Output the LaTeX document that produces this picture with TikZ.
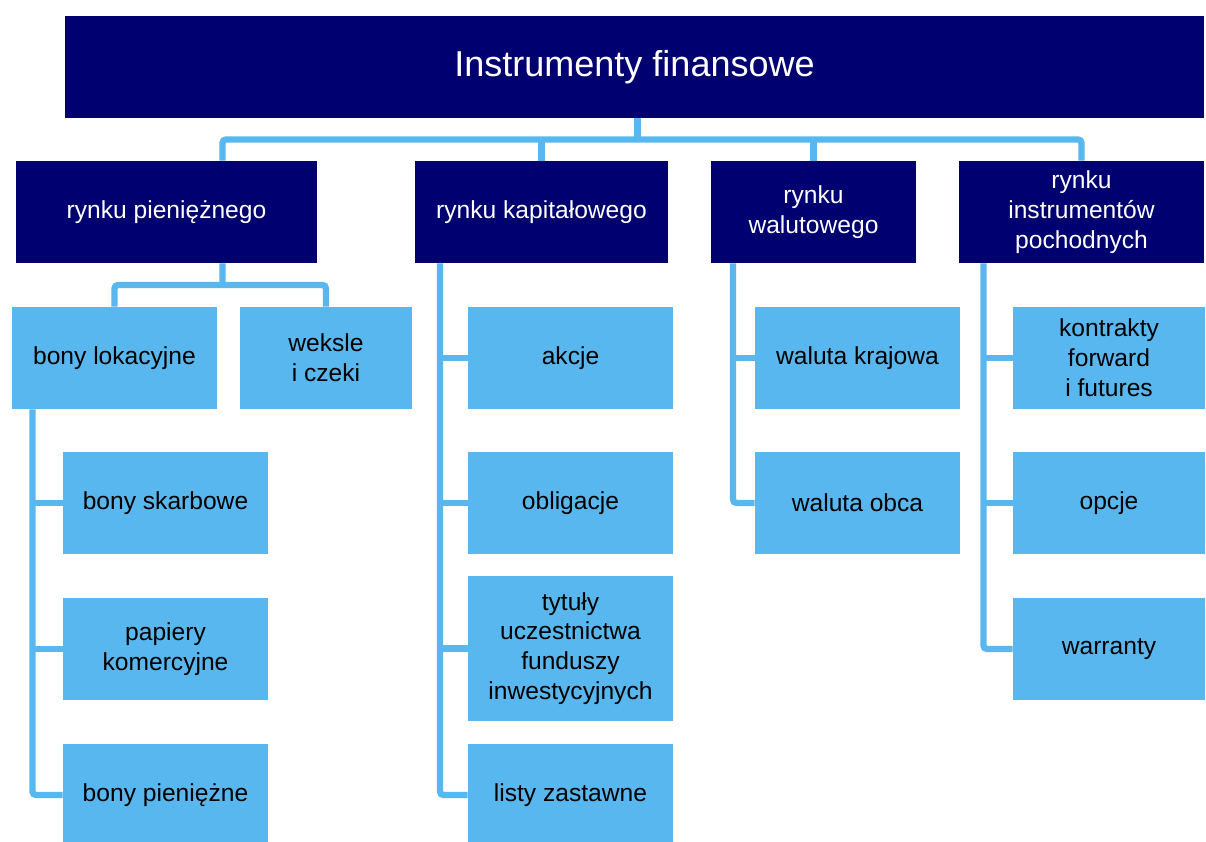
\documentclass[tikz,border=0pt]{standalone}
\usepackage{fontspec}
\setmainfont{Liberation Sans}
\definecolor{navybox}{RGB}{0,0,112}
\definecolor{skybox}{RGB}{88,183,238}

\begin{document}
\begin{tikzpicture}[
    head/.style={fill=navybox,text=white,align=center,inner sep=0pt,font=\fontsize{14}{17}\selectfont},
    item/.style={fill=skybox,text=black,align=center,inner sep=0pt,minimum width=4.10cm,minimum height=2.04cm,font=\fontsize{14}{17}\selectfont},
    conn/.style={draw=skybox,line width=3.6pt,rounded corners=2pt}]
    \useasboundingbox (0,0) rectangle (24.12,-16.84);
    \node[head,minimum width=22.78cm,minimum height=2.04cm,font=\fontsize{20.5}{24}\selectfont] (top) at (12.69,-1.34) {Instrumenty finansowe};

    \node[head,minimum width=6.02cm,minimum height=2.04cm] (pien) at (3.33,-4.24) {rynku pieniężnego};
    \node[head,minimum width=5.06cm,minimum height=2.04cm] (kap) at (10.83,-4.24) {rynku kapitałowego};
    \node[head,minimum width=4.10cm,minimum height=2.04cm] (wal) at (16.27,-4.24) {rynku\\walutowego};
    \node[head,minimum width=4.90cm,minimum height=2.04cm] (poch) at (21.63,-4.24) {rynku\\instrumentów\\pochodnych};

    \node[item] (lok) at (2.29,-7.16) {bony lokacyjne};
    \node[item,minimum width=3.44cm] (weksle) at (6.52,-7.16) {weksle\\i czeki};
    \node[item] (skarb) at (3.31,-10.06) {bony skarbowe};
    \node[item] (papiery) at (3.31,-12.98) {papiery\\komercyjne};
    \node[item] (bpien) at (3.31,-15.90) {bony pieniężne};

    \node[item] (akcje) at (11.41,-7.16) {akcje};
    \node[item] (oblig) at (11.41,-10.06) {obligacje};
    \node[item,minimum height=2.90cm] (tytuly) at (11.41,-12.97) {tytuły\\uczestnictwa\\funduszy\\inwestycyjnych};
    \node[item] (listy) at (11.41,-15.90) {listy zastawne};

    \node[item] (kraj) at (17.15,-7.16) {waluta krajowa};
    \node[item] (obca) at (17.15,-10.06) {waluta obca};

    \node[item,minimum width=3.84cm] (forward) at (22.18,-7.16) {kontrakty\\forward\\i futures};
    \node[item,minimum width=3.84cm] (opcje) at (22.18,-10.06) {opcje};
    \node[item,minimum width=3.84cm] (warr) at (22.18,-12.98) {warranty};

    \coordinate (bus) at (12.75,-2.79);
    \coordinate (pienbus) at (4.45,-5.70);
    \coordinate (loktrunk) at ([xshift=-1.64cm]lok.south);
    \coordinate (kaptrunk) at ([xshift=-2.03cm]kap.south);
    \coordinate (waltrunk) at ([xshift=-1.61cm]wal.south);
    \coordinate (pochtrunk) at ([xshift=-1.96cm]poch.south);

    \draw[conn] ([xshift=0.06cm]top.south) -- (bus);
    \draw[conn] ([xshift=1.12cm]pien.north) |- (bus) -| (poch.north);
    \draw[conn] (kap.north) -- (kap.north |- bus);
    \draw[conn] (wal.north) -- (wal.north |- bus);

    \draw[conn] ([xshift=1.12cm]pien.south) -- (pienbus);
    \draw[conn] (lok.north) |- (pienbus) -| (weksle.north);

    \draw[conn] (loktrunk) |- (bpien.west);
    \draw[conn] (loktrunk |- skarb.west) -- (skarb.west);
    \draw[conn] (loktrunk |- papiery.west) -- (papiery.west);

    \draw[conn] (kaptrunk) |- (listy.west);
    \draw[conn] (kaptrunk |- akcje.west) -- (akcje.west);
    \draw[conn] (kaptrunk |- oblig.west) -- (oblig.west);
    \draw[conn] (kaptrunk |- tytuly.west) -- (tytuly.west);

    \draw[conn] (waltrunk) |- (obca.west);
    \draw[conn] (waltrunk |- kraj.west) -- (kraj.west);

    \draw[conn] (pochtrunk) |- (warr.west);
    \draw[conn] (pochtrunk |- forward.west) -- (forward.west);
    \draw[conn] (pochtrunk |- opcje.west) -- (opcje.west);
\end{tikzpicture}
\end{document}
